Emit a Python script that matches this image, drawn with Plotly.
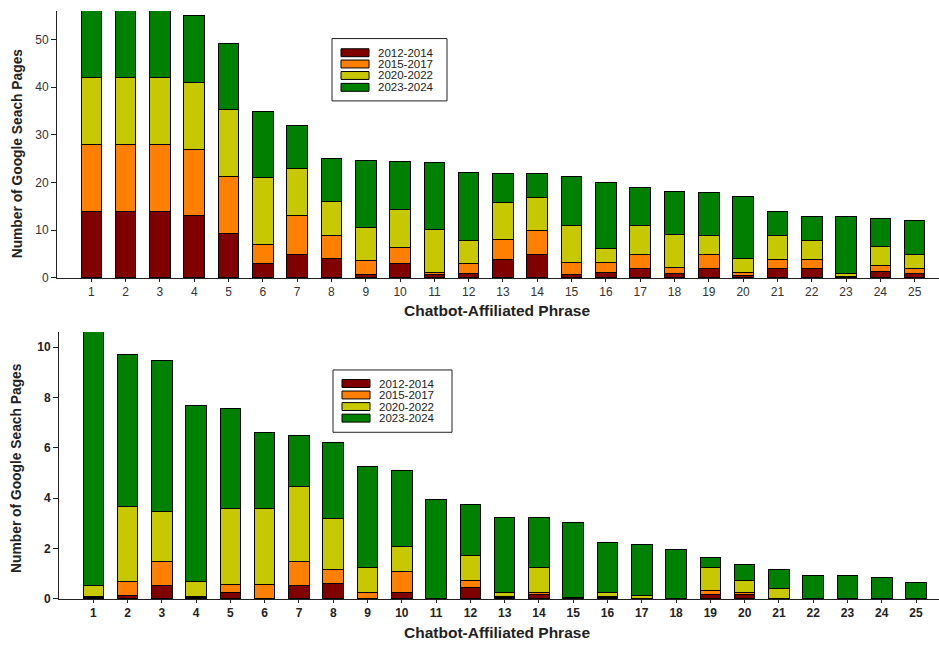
import plotly.graph_objects as go

phrases = list(range(1, 26))
periods = ["2012-2014", "2015-2017", "2020-2022", "2023-2024"]
colors = ["#800000", "#FF8000", "#C8C800", "#008000"]

# Top panel (segment values per period)
top_2012_2014 = [14, 14, 14, 13, 9.3, 3, 5, 4, 0.7, 3, 0.7, 1, 3.9, 5, 0.7, 1.2, 1.9, 0.9, 1.9, 0.5, 1.9, 1.9, 0.2, 1.4, 0.9]
top_2015_2017 = [14, 14, 14, 14, 12, 4, 8, 5, 2.9, 3.4, 0.5, 2, 4.1, 4.9, 2.6, 2, 3, 1.3, 3, 0.6, 2, 2, 0.2, 1.2, 1.1]
top_2020_2022 = [14, 14, 14, 14, 14, 14, 10, 7, 7, 8, 8.9, 4.9, 7.8, 7, 7.8, 2.9, 6, 6.9, 4, 3, 5, 4, 0.5, 3.9, 3]
top_2023_2024 = [14, 14, 14, 14, 13.9, 14, 9, 9, 14.1, 10.1, 14.1, 14.2, 6.2, 5.1, 10.2, 14, 8, 9.1, 9.1, 13, 5.1, 5, 11.9, 6, 7]

# Bottom panel
bot_2012_2014 = [0.05, 0.14, 0.55, 0.05, 0.26, 0, 0.55, 0.63, 0, 0.26, 0, 0.44, 0.05, 0.16, 0.05, 0.05, 0, 0, 0.16, 0.16, 0, 0, 0, 0, 0]
bot_2015_2017 = [0.05, 0.54, 0.93, 0.05, 0.30, 0.59, 0.93, 0.53, 0.26, 0.83, 0, 0.29, 0.05, 0.10, 0, 0.05, 0, 0, 0.19, 0.10, 0, 0, 0, 0, 0]
bot_2020_2022 = [0.42, 2.99, 2.00, 0.59, 3.02, 2.99, 2.99, 2.02, 0.99, 1.00, 0, 1.00, 0.14, 0.98, 0, 0.14, 0.12, 0, 0.89, 0.49, 0.43, 0, 0, 0, 0]
bot_2023_2024 = [10.1, 6.02, 6.01, 7.0, 4.0, 3.02, 2.01, 3.02, 4.02, 3.01, 3.95, 2.02, 3.0, 2.0, 3.0, 2.01, 2.04, 1.95, 0.41, 0.61, 0.72, 0.94, 0.94, 0.85, 0.65]

top_series = [top_2012_2014, top_2015_2017, top_2020_2022, top_2023_2024]
bot_series = [bot_2012_2014, bot_2015_2017, bot_2020_2022, bot_2023_2024]

W, H = 939, 647
def px_x(p):
    return p / W
def px_y(p):
    return (H - p) / H

fig = go.Figure()
for name, vals, col in zip(periods, top_series, colors):
    fig.add_trace(go.Bar(x=phrases, y=vals, name=name, marker=dict(color=col, line=dict(color="black", width=1)),
                         width=0.6, xaxis="x", yaxis="y", showlegend=False))
for name, vals, col in zip(periods, bot_series, colors):
    fig.add_trace(go.Bar(x=phrases, y=vals, name=name, marker=dict(color=col, line=dict(color="black", width=1)),
                         width=0.6, xaxis="x2", yaxis="y2", showlegend=False))

font_reg = "Liberation Sans, Arial, sans-serif"
tickvals = phrases

common_x = dict(tickmode="array", tickvals=tickvals, showgrid=False, zeroline=False, showline=True,
                linecolor="#222", linewidth=1, ticks="outside", ticklen=3, tickcolor="#222")
common_y = dict(showgrid=False, zeroline=False, showline=True, linecolor="#222", linewidth=1,
                ticks="outside", ticklen=5, tickcolor="#222")

fig.update_layout(
    width=W, height=H, margin=dict(l=0, r=0, t=0, b=0),
    paper_bgcolor="white", plot_bgcolor="white", barmode="stack", showlegend=False,
    font=dict(family=font_reg, color="#222"),
    xaxis=dict(common_x, domain=[px_x(57), 1], range=[0, 25.71], anchor="y",
               tickfont=dict(size=12, color="#333")),
    yaxis=dict(common_y, domain=[px_y(281), px_y(11)], range=[0, 56], anchor="x",
               tickvals=[0, 10, 20, 30, 40, 50], tickfont=dict(size=12, color="#333")),
    xaxis3=dict(overlaying="x", side="top", matches="x", anchor="y", tickmode="array", tickvals=tickvals,
                showticklabels=False, ticks="inside", ticklen=4, tickcolor="#222", showline=True,
                linecolor="#222", linewidth=1, showgrid=False, zeroline=False),
    xaxis2=dict(common_x, domain=[px_x(59), 1], range=[0, 25.67], anchor="y2",
                tickfont=dict(size=12, color="#222", weight="bold")),
    yaxis2=dict(common_y, domain=[px_y(605.5), px_y(335.7)], range=[0, 10.6], anchor="x2",
                tickvals=[0, 2, 4, 6, 8, 10], tickfont=dict(size=12, color="#222", weight="bold")),
    xaxis4=dict(overlaying="x2", side="top", matches="x2", anchor="y2", tickmode="array", tickvals=tickvals,
                showticklabels=False, ticks="inside", ticklen=4, tickcolor="#222", showline=True,
                linecolor="#222", linewidth=1, showgrid=False, zeroline=False),
)

annotations = []
shapes = []
for ycen, xtitle_y in [(155, 313.5), (473, 639.5)]:
    annotations.append(dict(text="Number of Google Seach Pages", xref="paper", yref="paper",
                            x=px_x(17), y=px_y(ycen), textangle=-90, showarrow=False,
                            xanchor="center", yanchor="middle",
                            font=dict(size=13.8, color="#222", weight="bold")))
    annotations.append(dict(text="Chatbot-Affiliated Phrase", xref="paper", yref="paper",
                            x=px_x(497), y=px_y(xtitle_y), showarrow=False,
                            xanchor="center", yanchor="middle",
                            font=dict(size=15.5, color="#222", weight="bold")))

# legends (drawn as boxes)
legend_specs = [
    dict(box=(332, 39, 447, 102), sw=(341, 369), rows=[53.3, 64.7, 76.3, 88.3], tx=376),
    dict(box=(333, 374, 452, 437), sw=(342, 370), rows=[387.7, 399.3, 411, 422.7], tx=377),
]
for spec in legend_specs:
    x0, y0, x1, y1 = spec["box"]
    shapes.append(dict(type="rect", xref="paper", yref="paper", x0=px_x(x0), x1=px_x(x1),
                       y0=px_y(y1), y1=px_y(y0), line=dict(color="#222", width=1), fillcolor="white"))
    for name, col, ry in zip(periods, colors, spec["rows"]):
        shapes.append(dict(type="rect", xref="paper", yref="paper", x0=px_x(spec["sw"][0]), x1=px_x(spec["sw"][1]),
                           y0=px_y(ry + 4), y1=px_y(ry - 4), line=dict(color="black", width=1), fillcolor=col))
        annotations.append(dict(text=name, xref="paper", yref="paper", x=px_x(spec["tx"]), y=px_y(ry),
                                xanchor="left", yanchor="middle", showarrow=False,
                                font=dict(size=11.5, color="#222")))

fig.update_layout(annotations=annotations, shapes=shapes)
fig.write_html("out.html", config={"displayModeBar": False},
               post_script="document.body.style.margin='0';document.body.style.padding='0';")
